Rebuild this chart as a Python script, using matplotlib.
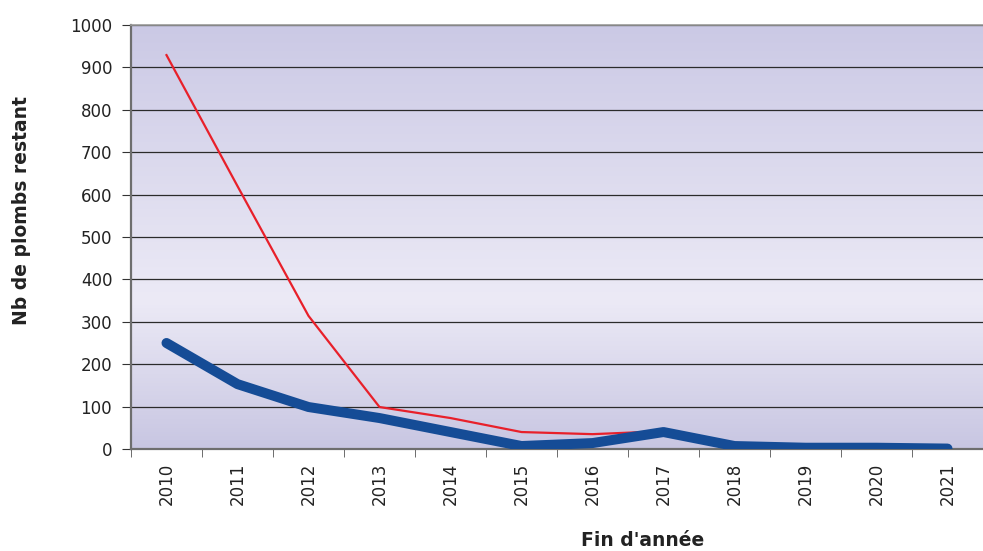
import numpy as np
import matplotlib.pyplot as plt
from matplotlib.colors import LinearSegmentedColormap

plt.rcParams['font.family'] = ['DejaVu Sans']

years = ["2010", "2011", "2012", "2013", "2014", "2015",
         "2016", "2017", "2018", "2019", "2020", "2021"]
red_vals = [929, 620, 314, 99, 73, 40, 35, 42]
blue_vals = [250, 153, 99, 73, 40, 7, 14, 40, 7, 3, 3, 1]

fig = plt.figure(figsize=(9.83, 5.51), dpi=100)
ax = fig.add_axes([131 / 983, 1 - 449 / 551, 852 / 983, 424 / 551])

# background gradient (lavender -> light -> lavender)
cmap = LinearSegmentedColormap.from_list(
    "bg", [(0, "#c8c6e2"), (0.35, "#eceaf6"), (1.0, "#cbc9e5")])
grad = np.linspace(0, 1, 256).reshape(-1, 1)
ax.imshow(grad, aspect="auto", cmap=cmap, extent=[-0.5, 11.5, 0, 1000],
          origin="lower", zorder=0)

x = np.arange(len(years))
for v in range(100, 1001, 100):
    ax.axhline(v, color="#2b2b2b", lw=0.9, zorder=1)

ax.plot(x[:len(red_vals)], red_vals, color="#e8202a", lw=1.6, zorder=3)
ax.plot(x, blue_vals, color="#154c96", lw=7.2, solid_capstyle="round",
        solid_joinstyle="round", zorder=4)

ax.set_xlim(-0.5, 11.5)
ax.set_ylim(0, 1000)
ax.set_yticks(range(0, 1001, 100))
ax.set_xticks(x)
ax.set_xticklabels(years, rotation=90, fontsize=12, color="#222222")
ax.tick_params(axis="x", which="major", length=0, pad=10)
ax.set_xticks(np.arange(-0.5, 12, 1), minor=True)
ax.tick_params(axis="x", which="minor", length=6, color="#555555")
ax.tick_params(axis="y", length=6.5, color="#333333", labelsize=12,
               labelcolor="#222222", pad=7)

for s in ["left", "bottom"]:
    ax.spines[s].set_color("#6e6e6e")
    ax.spines[s].set_linewidth(1.6)
ax.spines["top"].set_color("#9a9a9a")
ax.spines["top"].set_linewidth(1.2)
ax.spines["right"].set_visible(False)

fig.text(22 / 983, 1 - 211 / 551, "Nb de plombs restant", rotation=90,
         fontsize=13.5, fontweight="bold", ha="center", va="center",
         color="#222222")
fig.text(643 / 983, 1 - 541 / 551, "Fin d'année", fontsize=13.5,
         fontweight="bold", ha="center", va="center", color="#222222")

fig.savefig("out.png", dpi=100)
